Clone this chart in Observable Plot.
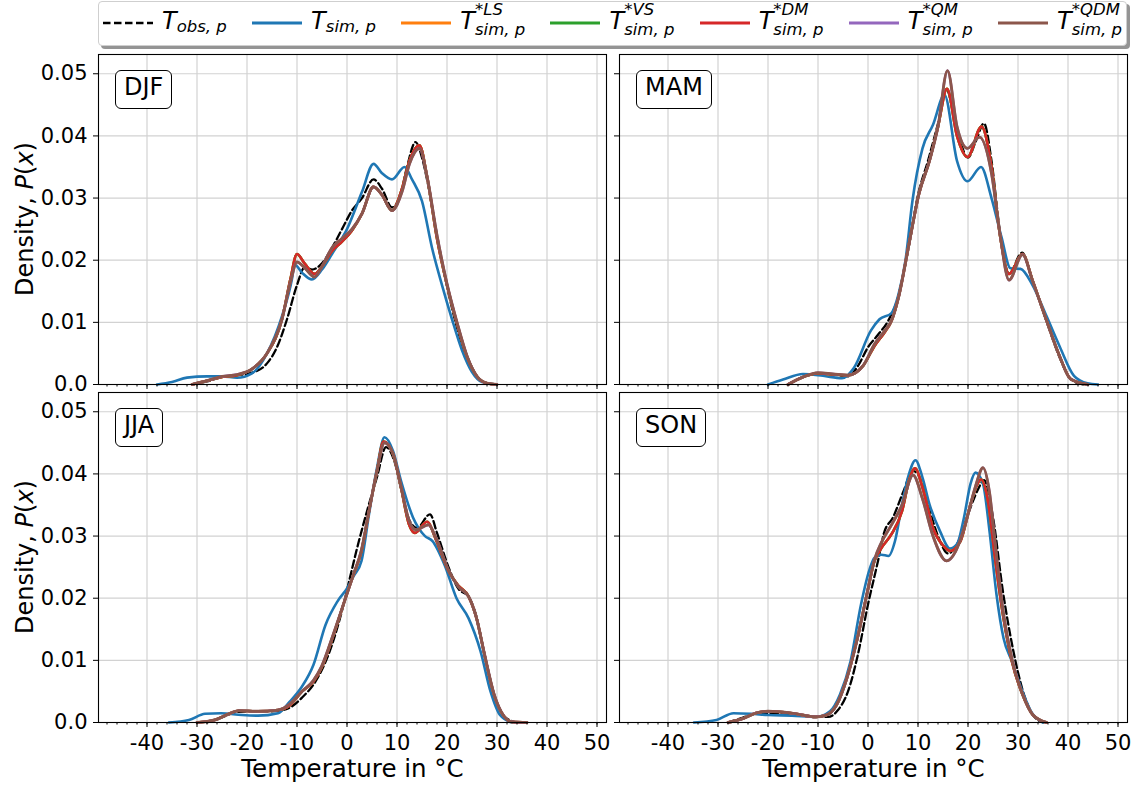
<!DOCTYPE html>
<html><head><meta charset="utf-8">
<script src="https://cdn.jsdelivr.net/npm/d3@7"></script>
<script src="https://cdn.jsdelivr.net/npm/@observablehq/plot@0.6"></script>
<style>
body{margin:0;background:#fff;font-family:"DejaVu Sans",sans-serif;color:#000}
#root{position:relative;width:1136px;height:785px;overflow:hidden;background:#fff}
.panel{position:absolute}
.season{position:absolute;border:1px solid #000;border-radius:6px;padding:2px 8px 7px;font-size:24px;line-height:28px;background:#fff;color:#000;white-space:nowrap}
.ylab{position:absolute;font-size:24px;white-space:nowrap;transform:translate(-50%,-50%) rotate(-90deg);line-height:1}
#legend{position:absolute;left:98px;top:1px;width:1029px;height:45px;box-sizing:border-box;border:1px solid #cfcfcf;border-radius:4px;background:#fff;box-shadow:3px 3px 0 rgba(0,0,0,0.42);display:flex;justify-content:space-between;padding:0 4px 0 4px}
.item{display:flex;align-items:flex-start;height:43px}
.item svg{margin-top:18px;margin-right:9px}
.T{font-style:italic;font-size:24px;line-height:1;margin-top:7px}
.scr{display:flex;flex-direction:column;font-style:italic;font-size:16.5px;line-height:1}
.sp{margin-top:0}
.sb{margin-top:3px}
.sb.only{margin-top:17.3px}
</style></head>
<body><div id="root"></div>
<script>
// ---------- axes / ticks ----------
const xDomain = [-49.7, 51.9];
const yDomain = [0, 0.0531];
const xMajor = [-40, -30, -20, -10, 0, 10, 20, 30, 40, 50];
const xMinor = [-48,-46,-44,-42,-40,-38,-36,-34,-32,-30,-28,-26,-24,-22,-20,-18,-16,-14,-12,-10,-8,-6,-4,-2,0,2,4,6,8,10,12,14,16,18,20,22,24,26,28,30,32,34,36,38,40,42,44,46,48,50];
const yMajor = [0, 0.01, 0.02, 0.03, 0.04, 0.05];
const yTickLabels = ["0.0", "0.01", "0.02", "0.03", "0.04", "0.05"];
const seasons = ["DJF", "MAM", "JJA", "SON"];
const seriesKeys = ["obs", "sim", "LS", "VS", "DM", "QM", "QDM"];
const seriesColors = ["#000000", "#1f77b4", "#ff7f0e", "#2ca02c", "#d62728", "#9467bd", "#8c564b"];
const seriesSup = ["", "", "*LS", "*VS", "*DM", "*QM", "*QDM"];
const seriesSub = ["obs, p", "sim, p", "sim, p", "sim, p", "sim, p", "sim, p", "sim, p"];

// ---------- DJF ----------
const djf_obs = [[-31,0],[-28,0.0005],[-25,0.0012],[-22,0.0015],[-19,0.0019],[-16,0.0034],[-14,0.006],[-12,0.0105],[-10,0.016],[-8.5,0.0188],[-7,0.0185],[-5,0.0195],[-3,0.022],[-1,0.025],[1,0.028],[3,0.030],[5.3,0.033],[7,0.0315],[9,0.0285],[10.5,0.030],[12,0.035],[13.7,0.039],[15,0.0365],[16,0.033],[18,0.024],[20,0.0158],[22,0.0092],[24,0.0042],[26,0.0012],[28,0.0002],[30,0]];
const djf_sim = [[-38,0],[-35,0.0004],[-32,0.0011],[-28,0.0013],[-25,0.0013],[-22,0.0011],[-19,0.0018],[-16,0.005],[-13,0.011],[-11,0.017],[-10.5,0.0193],[-9,0.018],[-7,0.0169],[-5,0.0185],[-3,0.021],[0,0.025],[3,0.031],[5.3,0.0355],[7,0.034],[9,0.033],[11.5,0.035],[13,0.033],[15,0.0295],[17,0.022],[19,0.016],[21,0.0105],[23,0.0055],[25,0.002],[27,0.0004],[30,0]];
const djf_DM = [[-31,0],[-28,0.0006],[-25,0.0012],[-22,0.0015],[-19,0.0025],[-16,0.005],[-13,0.0105],[-11.3,0.017],[-10,0.021],[-8.5,0.0195],[-6.5,0.0178],[-5,0.019],[-3,0.0215],[-1,0.023],[1,0.0248],[3,0.0275],[5.3,0.0318],[7,0.0305],[9,0.028],[11,0.0315],[12.5,0.036],[14.5,0.0385],[16,0.0335],[18,0.0235],[20,0.016],[22,0.0098],[24,0.0045],[26,0.0013],[28,0.0002],[30,0]];
const djf_QDM = [[-31,0],[-28,0.0006],[-25,0.0013],[-22,0.0016],[-19,0.0025],[-16,0.005],[-13,0.0105],[-11.3,0.0165],[-10,0.0197],[-8.5,0.0188],[-6.5,0.0173],[-5,0.019],[-3,0.022],[-1,0.0235],[1,0.025],[3,0.0275],[5.3,0.0318],[7,0.0305],[9,0.028],[11,0.031],[12.5,0.0355],[14.5,0.038],[16,0.0335],[18,0.024],[20,0.0162],[22,0.01],[24,0.0046],[26,0.0013],[28,0.0002],[30,0]];
// LS and VS lie under DM, QM under QDM (indistinguishable in the picture)
const djf_LS = djf_DM, djf_VS = djf_DM, djf_QM = djf_QDM;

// ---------- MAM ----------
const mam_obs = [[-16,0],[-13,0.0012],[-10,0.0017],[-7,0.0016],[-4,0.0013],[-2,0.003],[0,0.006],[2,0.008],[4,0.0102],[6,0.014],[8,0.0215],[10,0.0305],[12,0.036],[14,0.042],[15.7,0.0475],[17.5,0.042],[20,0.0365],[21.5,0.039],[23.2,0.042],[24.7,0.036],[26.4,0.0245],[28.2,0.0178],[30.8,0.0212],[33,0.0165],[35.7,0.0102],[38.4,0.0042],[40.5,0.0009],[43,0]];
const mam_sim = [[-20,0],[-17,0.0008],[-13,0.0017],[-9,0.0014],[-5.2,0.001],[-2.8,0.0027],[0.6,0.0087],[2.3,0.0105],[4.7,0.0115],[6.1,0.0145],[7.5,0.02],[8.9,0.0296],[10.9,0.038],[13,0.0418],[15.3,0.0466],[17.8,0.036],[19.9,0.0327],[22.6,0.035],[24.7,0.030],[26.7,0.0237],[28.5,0.0187],[30.5,0.0186],[32.9,0.016],[35.7,0.011],[38.4,0.006],[41.2,0.0014],[43.9,0.0002],[46,0]];
const mam_DM = [[-16,0],[-13,0.0012],[-10,0.0018],[-7,0.0016],[-4,0.0015],[-1,0.003],[1.3,0.0062],[3.4,0.0085],[4.7,0.0102],[6.1,0.014],[8.2,0.0226],[10.2,0.0307],[12.3,0.036],[14,0.0415],[15.8,0.0476],[17.8,0.040],[19.9,0.0366],[22.7,0.0415],[24.7,0.035],[26.4,0.024],[28.2,0.0178],[30.9,0.021],[32.9,0.0168],[35.7,0.0103],[38.4,0.0044],[40.5,0.0009],[44,0]];
const mam_QDM = [[-16,0],[-13,0.0012],[-10,0.0019],[-7,0.0017],[-4,0.0015],[-1,0.003],[1.3,0.0065],[3.4,0.0087],[4.7,0.0103],[6.1,0.014],[8.2,0.0226],[10.2,0.0307],[12.3,0.036],[14,0.0415],[15.9,0.0505],[17.8,0.0415],[19.9,0.038],[22.3,0.0398],[24.7,0.034],[26.4,0.0242],[28.2,0.0168],[30.9,0.0209],[32.9,0.0167],[35.7,0.0103],[38.4,0.0044],[40.5,0.0009],[44,0]];
const mam_LS = mam_DM, mam_VS = mam_DM, mam_QM = mam_QDM;

// ---------- JJA ----------
const jja_obs = [[-28,0],[-25,0.0008],[-22,0.0017],[-18,0.0018],[-15,0.0018],[-12,0.0022],[-9,0.004],[-6,0.007],[-3,0.0125],[-1,0.018],[0.5,0.023],[2,0.028],[4,0.034],[6,0.0395],[7.8,0.0443],[9.5,0.042],[11,0.037],[12.5,0.0325],[14,0.0313],[16.6,0.0335],[18,0.0305],[20.3,0.025],[22.3,0.0215],[24.3,0.0203],[25.9,0.017],[27.5,0.011],[29.4,0.0045],[31.4,0.001],[34,0]];
const jja_sim = [[-35.6,0],[-31.6,0.0004],[-28.4,0.0014],[-25.2,0.0015],[-21,0.0012],[-17.8,0.0011],[-13.8,0.0015],[-11.4,0.0034],[-9,0.0058],[-6.7,0.0093],[-4.3,0.0157],[-1.9,0.0195],[0.1,0.0217],[1.3,0.0235],[2.9,0.026],[4.4,0.0335],[6,0.041],[7.5,0.0459],[9.2,0.0437],[10.8,0.0389],[13.2,0.033],[15.6,0.030],[17.1,0.0292],[19.5,0.0254],[21.9,0.020],[24.3,0.0168],[26.7,0.0115],[28.7,0.005],[30.6,0.0012],[33,0]];
const jja_DM = [[-30,0],[-26.5,0.0004],[-23.3,0.0015],[-21.7,0.0019],[-17.8,0.0018],[-13.8,0.002],[-11.4,0.0028],[-9,0.005],[-6.7,0.0066],[-5.1,0.0088],[-2.7,0.0141],[-0.3,0.020],[1.3,0.0238],[2.9,0.0276],[4.4,0.034],[6,0.0405],[7.3,0.0452],[9.2,0.0432],[10.8,0.0378],[12.4,0.0319],[13.6,0.0305],[16,0.0323],[17.9,0.0292],[20.3,0.0244],[22.3,0.022],[24.3,0.0203],[25.9,0.0168],[27.5,0.0109],[29.4,0.0045],[31.4,0.001],[33,0.0001],[36,0]];
const jja_QDM = [[-30,0],[-26.5,0.0004],[-23.3,0.0015],[-21.7,0.0019],[-17.8,0.0018],[-13.8,0.002],[-11.4,0.003],[-9,0.005],[-6.7,0.0068],[-5.1,0.009],[-2.7,0.0143],[-0.3,0.020],[1.3,0.0238],[2.9,0.0278],[4.4,0.034],[6,0.0405],[7.5,0.045],[9.2,0.0433],[10.8,0.038],[12.4,0.0325],[13.8,0.031],[16.3,0.0318],[17.9,0.0295],[20.3,0.0245],[22.3,0.0218],[24.3,0.0203],[25.9,0.0168],[27.5,0.011],[29.4,0.0046],[31.4,0.001],[33,0.0001],[36,0]];
const jja_LS = jja_DM, jja_VS = jja_DM, jja_QM = jja_QDM;

// ---------- SON ----------
const son_obs = [[-28,0],[-25,0.0008],[-22,0.0015],[-18,0.0015],[-14,0.0013],[-10,0.0009],[-8,0.0009],[-6,0.002],[-4,0.005],[-2,0.011],[0,0.019],[2,0.026],[3.2,0.0305],[5,0.033],[7,0.037],[9,0.0405],[10.3,0.0395],[12,0.035],[14,0.030],[16,0.0272],[18,0.029],[20,0.0335],[22,0.0375],[23.2,0.039],[25,0.033],[27,0.021],[29,0.0118],[31,0.005],[33,0.0012],[35,0]];
const son_sim = [[-34.8,0],[-30.3,0.0004],[-26.9,0.0015],[-23.4,0.0014],[-20,0.0012],[-15.2,0.0011],[-10.4,0.0009],[-7.6,0.0018],[-5.6,0.0045],[-3.5,0.0098],[-1.4,0.019],[0.3,0.0246],[1.3,0.0265],[2.7,0.027],[4.1,0.0268],[5.4,0.0292],[6.8,0.0351],[8.2,0.040],[9.5,0.0422],[10.9,0.0394],[12.3,0.0351],[14.4,0.0308],[16.4,0.028],[17.8,0.0287],[19.2,0.033],[20.5,0.0384],[21.5,0.0402],[23,0.0384],[24.3,0.0308],[25.7,0.0206],[27.1,0.0136],[28.8,0.0098],[30.9,0.005],[32.6,0.0018],[35,0]];
const son_DM = [[-28,0],[-24.8,0.0007],[-22.1,0.0016],[-20,0.0018],[-15.2,0.0015],[-10.4,0.0009],[-8.3,0.0012],[-6.3,0.0028],[-4.2,0.0072],[-2.1,0.0136],[-0.1,0.0211],[1.3,0.026],[2.7,0.0281],[4.7,0.0303],[6.8,0.034],[8.2,0.0389],[9.4,0.0409],[10.9,0.0378],[13,0.0313],[15.1,0.0284],[16.4,0.0276],[18.5,0.0292],[20.5,0.0351],[21.9,0.0384],[22.6,0.0391],[24,0.0356],[25.4,0.0265],[27.1,0.0168],[28.8,0.0098],[30.9,0.0045],[33,0.0012],[35.7,0]];
const son_QDM = [[-28,0],[-24.8,0.0007],[-22.1,0.0016],[-20,0.0018],[-15.2,0.0015],[-10.4,0.0009],[-8.3,0.0012],[-6.3,0.0028],[-4.2,0.0072],[-2.1,0.0136],[-0.1,0.0211],[1.3,0.0262],[2.7,0.029],[4.7,0.0318],[6.8,0.035],[9,0.0398],[10.9,0.036],[13,0.030],[15.7,0.026],[17.5,0.0275],[19.5,0.032],[21.5,0.038],[23,0.041],[24.3,0.037],[25.4,0.029],[27.1,0.0175],[28.8,0.0102],[30.9,0.0046],[33,0.0012],[35.7,0]];
const son_LS = son_DM, son_VS = son_DM, son_QM = son_QDM;

const curvesBySeason = {
  DJF: [djf_obs, djf_sim, djf_LS, djf_VS, djf_DM, djf_QM, djf_QDM],
  MAM: [mam_obs, mam_sim, mam_LS, mam_VS, mam_DM, mam_QM, mam_QDM],
  JJA: [jja_obs, jja_sim, jja_LS, jja_VS, jja_DM, jja_QM, jja_QDM],
  SON: [son_obs, son_sim, son_LS, son_VS, son_DM, son_QM, son_QDM]
};

const root = document.getElementById("root");

const layouts = {
  DJF: {left: 0,   top: 44,  width: 612, height: 346, mL: 98, mR: 6, mT: 10, mB: 6,  showX: false, showY: true},
  MAM: {left: 612, top: 44,  width: 524, height: 346, mL: 7,  mR: 9, mT: 10, mB: 6,  showX: false, showY: false},
  JJA: {left: 0,   top: 390, width: 612, height: 395, mL: 98, mR: 6, mT: 2,  mB: 63, showX: true,  showY: true},
  SON: {left: 612, top: 390, width: 524, height: 395, mL: 7,  mR: 9, mT: 2,  mB: 63, showX: true,  showY: false}
};

seasons.forEach(season => {
  const L = layouts[season];
  const curves = curvesBySeason[season];
  const marks = [
    Plot.gridX(xMajor, {stroke: "#d2d2d2", strokeOpacity: 1, strokeWidth: 1.2}),
    Plot.gridY(yMajor.slice(1), {stroke: "#d2d2d2", strokeOpacity: 1, strokeWidth: 1.2})
  ];
  seriesKeys.forEach((k, i) => {
    const opts = {x: d => d[0], y: d => d[1], stroke: seriesColors[i], strokeWidth: k === "QDM" ? 2.9 : 2.6, curve: "monotone-x"};
    if (k === "obs") { opts.strokeDasharray = "7.5,3.5"; opts.strokeWidth = 2.3; }
    marks.push(Plot.line(curves[i], opts));
  });
  marks.push(Plot.frame({stroke: "black", strokeWidth: 1.1}));
  marks.push(Plot.axisX(xMinor, {tickSize: 2.5, fill: "none", label: null}));
  marks.push(Plot.axisX(xMajor, {tickSize: 5, tickPadding: 8, label: null, fontSize: 21, fill: L.showX ? "black" : "none", tickFormat: d => String(d)}));
  marks.push(Plot.axisY(yMajor, {tickSize: 5, tickPadding: 6, label: null, fontSize: 21, fill: L.showY ? "black" : "none", tickFormat: (d, i) => yTickLabels[i]}));
  if (L.showX) marks.push(Plot.text(["Temperature in °C"], {text: d => d, frameAnchor: "bottom", lineAnchor: "middle", dy: 47, fontSize: 24.5, fill: "black"}));
  const svg = Plot.plot({
    width: L.width, height: L.height,
    marginLeft: L.mL, marginRight: L.mR, marginTop: L.mT, marginBottom: L.mB,
    x: {domain: xDomain},
    y: {domain: yDomain},
    style: {fontFamily: "DejaVu Sans", fontSize: "21px", color: "black", background: "transparent", overflow: "visible"},
    marks
  });
  const div = document.createElement("div");
  div.className = "panel";
  div.style.left = L.left + "px";
  div.style.top = L.top + "px";
  div.appendChild(svg);
  root.appendChild(div);

  // season label box
  const box = document.createElement("div");
  box.className = "season";
  box.textContent = season;
  box.style.left = (L.left + L.mL + 17) + "px";
  box.style.top = (L.top + L.mT + 15.5) + "px";
  root.appendChild(box);

  if (L.showY) {
    const yl = document.createElement("div");
    yl.className = "ylab";
    yl.innerHTML = 'Density, <i>P</i>(<i>x</i>)';
    yl.style.left = "25px";
    yl.style.top = (L.top + L.mT + 165) + "px";
    root.appendChild(yl);
  }
});

// ---------- legend ----------
const leg = document.createElement("div");
leg.id = "legend";
seriesKeys.forEach((k, i) => {
  const item = document.createElement("div");
  item.className = "item";
  const dash = k === "obs" ? ' stroke-dasharray="7.5,3.5"' : '';
  const w = k === "obs" ? 2.3 : 2.8;
  let html = `<svg width="50" height="6"><line x1="0" x2="50" y1="3" y2="3" stroke="${seriesColors[i]}" stroke-width="${w}"${dash}/></svg>`;
  html += `<span class="T">T</span>`;
  if (seriesSup[i]) {
    html += `<span class="scr"><span class="sp">${seriesSup[i]}</span><span class="sb">${seriesSub[i]}</span></span>`;
  } else {
    html += `<span class="scr"><span class="sb only">${seriesSub[i]}</span></span>`;
  }
  item.innerHTML = html;
  leg.appendChild(item);
});
root.appendChild(leg);
</script>
</body></html>
